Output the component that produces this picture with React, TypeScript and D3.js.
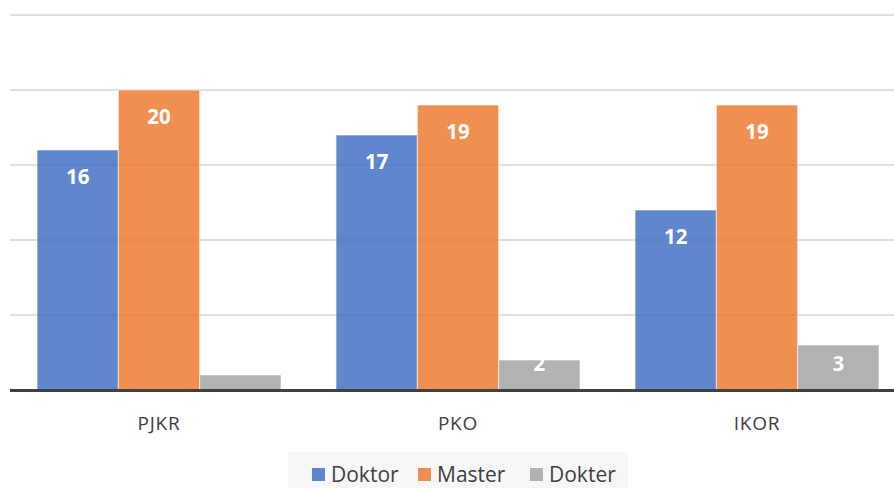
import React from "react";
import * as d3 from "d3";

const categories = ["PJKR", "PKO", "IKOR"];
const seriesNames = ["Doktor", "Master", "Dokter"];
const doktorValues = [16, 17, 12];
const masterValues = [20, 19, 19];
const dokterValues = [1, 2, 3];
const gridTicks = [5, 10, 15, 20, 25];
const colors = ["#4472C4", "#ED7D31", "#A5A5A5"];

const W = 894;
const H = 488;
const FONT = "'Open Sans', 'Noto Sans', sans-serif";

export default function App() {
  const series = [doktorValues, masterValues, dokterValues];
  const x0 = d3.scaleBand<string>().domain(categories).range([9.5, 906.5]).paddingInner(0).paddingOuter(0);
  const groupW = 244;
  const x1 = d3.scaleBand<string>().domain(seriesNames).range([0, groupW]).padding(0);
  const y = d3.scaleLinear().domain([0, 25]).range([390, 15]);

  return (
    <svg width={W} height={H} style={{ position: "absolute", left: 0, top: 0, background: "#fff" }}>
      {gridTicks.map((t) => (
        <line key={t} x1={10} x2={W} y1={y(t)} y2={y(t)} stroke="#d4d4d4" strokeWidth={1.5} />
      ))}
      {categories.map((c, ci) => {
        const gx = (x0(c) as number) + (x0.bandwidth() - groupW) / 2;
        return (
          <g key={c}>
            {series.map((vals, si) => {
              const v = vals[ci];
              const bx = gx + (x1(seriesNames[si]) as number);
              const top = y(v);
              return (
                <rect
                  key={si}
                  x={bx}
                  y={top}
                  width={x1.bandwidth()}
                  height={y(0) - top}
                  fill={colors[si]}
                  fillOpacity={0.85}
                  stroke="#ffffff"
                  strokeOpacity={0.6}
                  strokeWidth={1}
                />
              );
            })}
            {series.map((vals, si) => {
              const v = vals[ci];
              const bx = gx + (x1(seriesNames[si]) as number) + x1.bandwidth() / 2;
              const top = y(v);
              const cy = Math.min(top + 27, y(0) - 26);
              return (
                <text
                  key={"t" + si}
                  x={bx}
                  y={cy}
                  dy="0.35em"
                  textAnchor="middle"
                  fill="#ffffff"
                  fontFamily={FONT}
                  fontWeight="bold"
                  fontSize={20.5}
                >
                  {v}
                </text>
              );
            })}
            <text
              x={(x0(c) as number) + x0.bandwidth() / 2}
              y={430}
              textAnchor="middle"
              fill="#404040"
              fontFamily={FONT}
              fontSize={19}
              letterSpacing={0.8}
            >
              {c}
            </text>
          </g>
        );
      })}
      <line x1={10} x2={W} y1={390.5} y2={390.5} stroke="#404040" strokeWidth={3} />
      <rect x={288} y={452} width={340} height={36} fill="#f7f7f7" />
      {seriesNames.map((s, i) => {
        const lx = [312, 418, 530][i];
        return (
          <g key={s}>
            <rect x={lx} y={468} width={13} height={13} fill={colors[i]} fillOpacity={0.85} />
            <text x={lx + 19} y={482} fill="#404040" fontFamily={FONT} fontSize={21}>
              {s}
            </text>
          </g>
        );
      })}
    </svg>
  );
}
